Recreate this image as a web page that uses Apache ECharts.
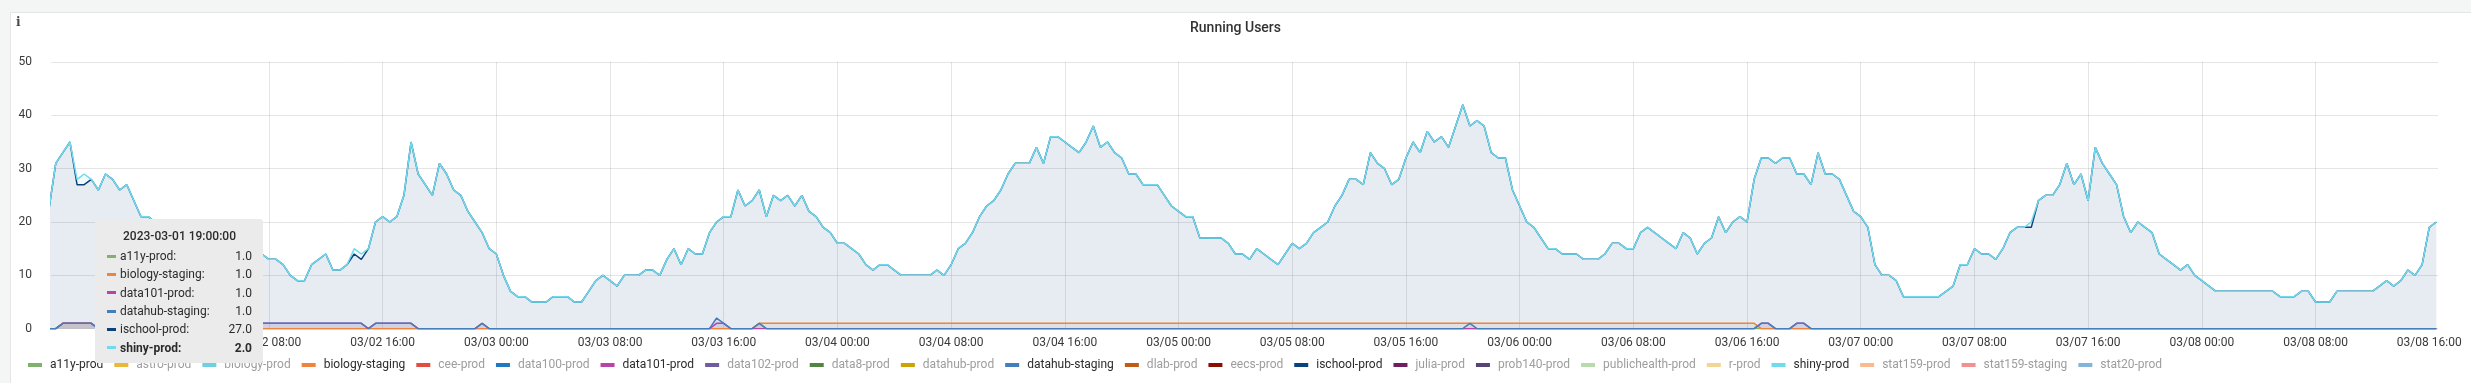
<!DOCTYPE html>
<html><head><meta charset="utf-8">
<script src="https://cdn.jsdelivr.net/npm/echarts@6/dist/echarts.min.js"></script>
<style>
html,body{margin:0;padding:0;background:#f4f5f5;width:2471px;height:383px;overflow:hidden;font-family:Roboto,sans-serif}
#panel{position:absolute;left:10px;top:12px;width:2470px;height:380px;background:#fff;border:1px solid #e3e5e8;box-sizing:border-box}
#chart{position:absolute;left:0;top:0;width:2471px;height:383px}
</style></head><body>
<div id="panel"></div><div id="chart"></div>
<script>
// ---- series names and palette ----
const seriesNames = ['a11y-prod','astro-prod','biology-prod','biology-staging','cee-prod','data100-prod','data101-prod','data102-prod','data8-prod','datahub-prod','datahub-staging','dlab-prod','eecs-prod','ischool-prod','julia-prod','prob140-prod','publichealth-prod','r-prod','shiny-prod','stat159-prod','stat159-staging','stat20-prod'];
const seriesColors = ['#7EB26D','#EAB839','#6ED0E0','#EF843C','#E24D42','#1F78C1','#BA43A9','#705DA0','#508642','#CCA300','#447EBC','#C15C17','#890F02','#0A437C','#6D1F62','#584477','#B7DBAB','#F4D598','#70DBED','#F9BA8F','#F29191','#82B5D8'];
const shownSeries = ['a11y-prod','biology-staging','data101-prod','datahub-staging','ischool-prod','shiny-prod'];

// ---- sample times: hours after 2023-03-01 00:00, every 30 minutes ----
const sampleStartHour = 16.5;
const sampleStepHours = 0.5;

// ischool-prod running users (stack base)
const ischoolProd = [
22,31,33,35,27,27,28,26,29,28,
26,27,24,21,21,20,19,18,18,17,
17,16,16,15,15,15,14,14,14,14,
14,13,13,12,10,9,9,12,13,14,
11,11,12,14,13,15,20,21,20,21,
25,35,29,27,25,31,29,26,25,22,
20,18,15,14,10,7,6,6,5,5,
5,6,6,6,5,5,7,9,10,9,
8,10,10,10,11,11,10,13,15,12,
15,14,14,18,20,21,21,26,23,24,
26,21,25,24,25,23,25,22,21,19,
18,16,16,15,14,12,11,12,12,11,
10,10,10,10,10,11,10,12,15,16,
18,21,23,24,26,29,31,31,31,34,
31,36,36,35,34,33,35,38,34,35,
33,32,29,29,27,27,27,25,23,22,
21,21,17,17,17,17,16,14,14,13,
15,14,13,12,14,16,15,16,18,19,
20,23,25,28,28,27,33,31,30,27,
28,32,35,33,37,35,36,34,38,42,
38,39,38,33,32,32,26,23,20,19,
17,15,15,14,14,14,13,13,13,14,
16,16,15,15,18,19,18,17,16,15,
18,17,14,16,17,21,18,20,21,20,
28,32,32,31,32,32,29,29,27,33,
29,29,28,25,22,21,19,12,10,10,
9,6,6,6,6,6,6,7,8,12,
12,15,14,14,13,15,18,19,19,19,
24,25,25,27,31,27,29,24,34,31,
29,27,21,18,20,19,18,14,13,12,
11,12,10,9,8,7,7,7,7,7,
7,7,7,7,6,6,6,7,7,5,
5,5,7,7,7,7,7,7,8,9,
8,9,11,10,12,19,20
];
// shiny-prod running users (stacked on ischool-prod)
const shinyProd = [
0,0,0,0,1,2,0,0,0,0,
0,0,0,0,0,0,0,0,0,0,
0,0,0,0,0,0,0,0,0,0,
0,0,0,0,0,0,0,0,0,0,
0,0,0,1,1,0,0,0,0,0,
0,0,0,0,0,0,0,0,0,0,
0,0,0,0,0,0,0,0,0,0,
0,0,0,0,0,0,0,0,0,0,
0,0,0,0,0,0,0,0,0,0,
0,0,0,0,0,0,0,0,0,0,
0,0,0,0,0,0,0,0,0,0,
0,0,0,0,0,0,0,0,0,0,
0,0,0,0,0,0,0,0,0,0,
0,0,0,0,0,0,0,0,0,0,
0,0,0,0,0,0,0,0,0,0,
0,0,0,0,0,0,0,0,0,0,
0,0,0,0,0,0,0,0,0,0,
0,0,0,0,0,0,0,0,0,0,
0,0,0,0,0,0,0,0,0,0,
0,0,0,0,0,0,0,0,0,0,
0,0,0,0,0,0,0,0,0,0,
0,0,0,0,0,0,0,0,0,0,
0,0,0,0,0,0,0,0,0,0,
0,0,0,0,0,0,0,0,0,0,
0,0,0,0,0,0,0,0,0,0,
0,0,0,0,0,0,0,0,0,0,
0,0,0,0,0,0,0,0,0,0,
0,0,0,0,0,0,0,0,0,1,
0,0,0,0,0,0,0,0,0,0,
0,0,0,0,0,0,0,0,0,0,
0,0,0,0,0,0,0,0,0,0,
0,0,0,0,0,0,0,0,0,0,
0,0,0,0,0,0,0,0,0,0,
0,0,0,0,0,0,0
];
// small hubs: [hour, users] breakpoints
const a11yProd = [[16.5,0],[17,0],[17.5,1],[19,1],[19.5,1],[20,0],[66,0],[66.5,1],[67,0],[184.5,0]];
const biologyStaging = [[16.5,0],[17,0],[17.5,1],[19,1],[19.5,1],[20,0],[66,0],[66.5,1],[136.5,1],[137,0],[184.5,0]];
const data101Prod = [[16.5,0],[17,0],[17.5,1],[19,1],[19.5,1],[20,0],[30.5,0],[31,1],[38.5,1],[39,0],[39.5,1],[42,1],[42.5,0],[46.5,0],[47,1],[47.5,0],[63,0],[63.5,1],[64,1],[64.5,0],[136.5,0],[137,1],[137.5,1],[138,0],[139,0],[139.5,1],[140,1],[140.5,0],[184.5,0]];
const datahubStaging = [[16.5,0],[17,0],[17.5,1],[19,1],[19.5,1],[20,0],[30.5,0],[31,1],[38.5,1],[39,0],[39.5,1],[42,1],[42.5,0],[46.5,0],[47,1],[47.5,0],[63,0],[63.5,2],[64,1],[64.5,0],[66,0],[66.5,1],[67,0],[116,0],[116.5,1],[117,0],[136.5,0],[137,1],[137.5,1],[138,0],[139,0],[139.5,1],[140,1],[140.5,0],[184.5,0]];

// x axis: tick positions (hours after 2023-03-01 00:00)
const xTickHours = [24,32,40,48,56,64,72,80,88,96,104,112,120,128,136,144,152,160,168,176,184];
const xMinHour = 16 + 40/60;     // 03/01 16:40
const xMaxHour = 184 + 37/60;    // 03/08 16:37
const tooltipHour = 19;
const tooltipHighlight = 'shiny-prod';

// x coordinate = minutes after 2023-03-01 00:00
const toMin = h => Math.round(h * 60);
function pad(n){ return (n < 10 ? '0' : '') + n; }
function splitMin(m){ const d = Math.floor(m / 1440) + 1; const r = m - (d - 1) * 1440; return [d, Math.floor(r / 60), r % 60]; }
function fmtTick(m){ const p = splitMin(m); return '03/' + pad(p[0]) + ' ' + pad(p[1]) + ':' + pad(p[2]); }
function fmtFull(m){ const p = splitMin(m); return '2023-03-' + pad(p[0]) + ' ' + pad(p[1]) + ':' + pad(p[2]) + ':00'; }

// data items are stored as [users, minute] so that stacking works on the users dimension
const sampleMins = ischoolProd.map((_, i) => toMin(sampleStartHour + i * sampleStepHours));
const pairs = arr => arr.map((v, i) => [v, sampleMins[i]]);
const sparse = arr => arr.map(p => [p[1], toMin(p[0])]);
const dataByName = {
  'a11y-prod': sparse(a11yProd),
  'biology-staging': sparse(biologyStaging),
  'data101-prod': sparse(data101Prod),
  'datahub-staging': sparse(datahubStaging),
  'ischool-prod': pairs(ischoolProd),
  'shiny-prod': pairs(shinyProd)
};

const series = seriesNames.map((name, i) => {
  const c = seriesColors[i];
  const s = {
    name, type: 'line', data: dataByName[name] || [],
    encode: { x: 1, y: 0 },
    showSymbol: false, symbol: 'none',
    lineStyle: { width: 1.5, color: c },
    itemStyle: { color: c },
    areaStyle: { color: c, opacity: 0.1 },
    emphasis: { disabled: true },
    clip: true
  };
  if (name === 'ischool-prod' || name === 'shiny-prod') s.stack = 'users';
  return s;
});

const chart = echarts.init(document.getElementById('chart'), null, { renderer: 'canvas' });
chart.setOption({
  animation: false,
  color: seriesColors,
  textStyle: { fontFamily: 'Roboto' },
  title: { text: 'Running Users', left: 'center', top: 21, padding: 0,
    textStyle: { fontSize: 14, fontWeight: 500, color: '#333', fontFamily: 'Roboto' } },
  graphic: [{ type: 'text', left: 16, top: 17, style: { text: 'i', font: 'bold 12px "DejaVu Serif"', fill: '#4a4a4a' } }],
  grid: { left: 51, right: 33, top: 62, bottom: 54.3 },
  legend: {
    left: 28, top: 359, padding: 0, icon: 'rect', itemWidth: 14, itemHeight: 4, itemGap: 11,
    textStyle: { fontSize: 12, fontFamily: 'Roboto', color: '#2b2b2b', padding: [0,0,0,3] },
    data: seriesNames.map(n => shownSeries.includes(n) ? { name: n } : { name: n, textStyle: { color: '#9d9d9d' } })
  },
  tooltip: {
    trigger: 'axis', triggerOn: 'none', alwaysShowContent: true, transitionDuration: 0,
    axisPointer: { type: 'line', lineStyle: { color: 'rgba(0,0,0,0)' } },
    position: [95, 219],
    backgroundColor: '#ebebeb', borderWidth: 0, padding: [8, 11, 6, 12],
    textStyle: { fontFamily: 'Roboto', fontSize: 12, color: '#2b2b2b' },
    extraCssText: 'box-shadow:none;border-radius:3px;width:168px;box-sizing:border-box;',
    formatter: function (params) {
      let html = '<div style="text-align:center;font-weight:500;height:20px;line-height:18px">' + fmtFull(params[0].value[1]) + '</div>';
      params.forEach(p => {
        const v = p.value[0];
        if (!v) return;
        const bold = p.seriesName === tooltipHighlight;
        html += '<div style="display:flex;align-items:center;height:18.3px;line-height:18px;' + (bold ? 'font-weight:700;' : '') + '">' +
          '<span style="display:inline-block;width:9px;height:3px;background:' + p.color + ';margin-right:4px"></span>' +
          '<span style="flex:1">' + p.seriesName + ':</span><span>' + v.toFixed(1) + '</span></div>';
      });
      return html;
    }
  },
  xAxis: {
    type: 'value', min: toMin(xMinHour), max: toMin(xMaxHour),
    axisLine: { show: false },
    axisTick: { show: false, customValues: xTickHours.map(toMin) },
    axisLabel: { customValues: xTickHours.map(toMin), formatter: fmtTick, color: '#3a3a3a', fontSize: 12, margin: 8 },
    splitLine: { show: true, showMinLine: false, showMaxLine: false, lineStyle: { color: 'rgba(0,0,0,0.1)', width: 1 } }
  },
  yAxis: {
    type: 'value', min: 0, max: 50, interval: 10,
    axisLine: { show: false }, axisTick: { show: false },
    axisLabel: { color: '#3a3a3a', fontSize: 12, margin: 19 },
    splitLine: { lineStyle: { color: 'rgba(0,0,0,0.1)', width: 1 } }
  },
  series
});
const pt = chart.convertToPixel({ gridIndex: 0 }, [toMin(tooltipHour), 20]);
chart.dispatchAction({ type: 'showTip', x: pt[0], y: pt[1] });
</script></body></html>
